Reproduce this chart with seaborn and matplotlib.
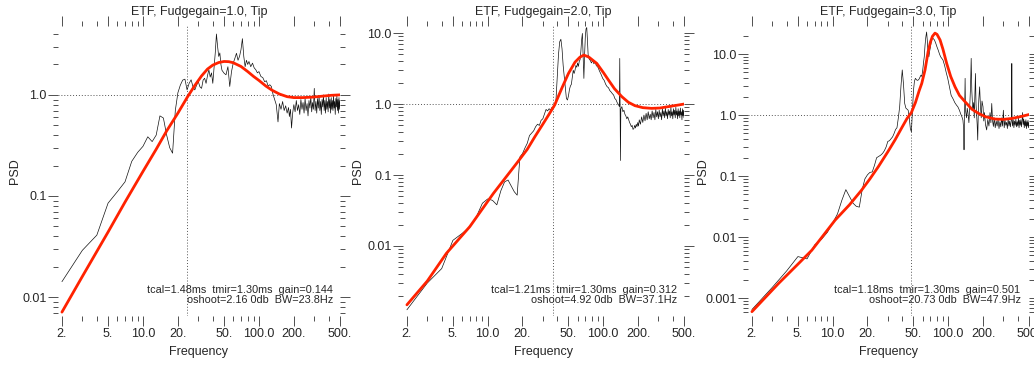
import matplotlib
matplotlib.use("Agg")
import matplotlib.pyplot as plt
import matplotlib.ticker as mticker
import seaborn as sns

sns.set_style("white")
plt.rcParams["font.family"] = ["Liberation Sans", "DejaVu Sans"]

# ----------------------------
# Data
# ----------------------------
fudgegain = ["1.0", "2.0", "3.0"]
tcal = ["1.48", "1.21", "1.18"]
tmir = ["1.30", "1.30", "1.30"]
gain = ["0.144", "0.312", "0.501"]
oshoot = ["2.16", "4.92", "20.73"]
bw = [23.8, 37.1, 47.9]

xticks = [2, 5, 10, 20, 50, 100, 200, 500]
xtick_labels = ["2.", "5.", "10.0", "20.", "50.", "100.0", "200.", "500."]
xminor = [3, 4, 6, 7, 8, 9, 30, 40, 60, 70, 80, 90, 300, 400]

# measured PSD, panel 1
p1_freq = [
    2, 3, 4, 5, 6, 7, 8, 9, 10, 11,
    12, 13, 14, 15, 16, 17, 18, 19, 20, 21,
    22, 23, 24, 25, 26, 27, 28, 29, 30, 31,
    32, 33, 34, 35, 36, 37, 38, 39, 40, 41,
    42, 43, 44, 45, 46, 47, 48, 50, 52, 54,
    56, 58, 60, 62, 64, 66, 68, 70, 72, 74,
    76, 78, 80, 82, 85, 88, 91, 94, 97, 100,
    104, 108, 112, 116, 120, 124, 128, 132, 137, 141,
    146, 150, 155, 160, 165, 170, 175, 180, 183, 187,
    191, 195, 200, 205, 210, 215, 220, 225, 230, 235,
    240, 245, 250, 255, 260, 265, 270, 275, 280, 285,
    290, 295, 300, 305, 310, 315, 320, 325, 330, 335,
    340, 345, 350, 355, 360, 365, 370, 375, 380, 385,
    390, 395, 400, 405, 410, 415, 420, 425, 430, 435,
    440, 445, 450, 455, 460, 465, 470, 475, 480, 485,
    490, 495, 500]
p1_psd = [
    0.0142, 0.029, 0.041, 0.085, 0.110, 0.138, 0.22, 0.27, 0.31, 0.385,
    0.345, 0.40, 0.62, 0.59, 0.40, 0.30, 0.265, 0.70, 1.05, 1.25,
    1.40, 1.43, 1.12, 1.30, 1.41, 1.20, 1.12, 1.25, 1.35, 1.20,
    1.16, 1.40, 1.46, 1.30, 1.55, 1.77, 1.50, 1.65, 1.30, 1.84,
    2.60, 4.00, 3.00, 2.40, 2.60, 2.00, 1.75, 1.64, 1.58, 1.90,
    1.21, 1.70, 2.06, 2.30, 2.58, 2.20, 2.40, 2.80, 3.60, 2.40,
    1.90, 2.20, 2.00, 2.14, 1.90, 2.06, 1.85, 1.77, 1.65, 1.70,
    1.52, 1.48, 1.35, 1.38, 1.22, 1.26, 1.21, 1.02, 0.89, 0.80,
    0.54, 0.82, 0.72, 0.86, 0.70, 0.78, 0.66, 0.75, 0.61, 0.72,
    0.47, 0.65, 0.80, 0.68, 0.88, 0.70, 0.80, 0.64, 0.90, 0.72,
    0.84, 0.66, 0.92, 0.70, 0.82, 0.62, 0.88, 0.74, 0.96, 0.68,
    0.84, 0.72, 1.16, 0.70, 0.86, 0.66, 0.92, 0.74, 0.98, 0.70,
    0.86, 0.64, 0.90, 0.76, 1.00, 0.70, 0.88, 0.66, 0.94, 0.72,
    0.86, 0.68, 1.02, 0.74, 0.90, 0.66, 0.94, 0.72, 0.88, 0.70,
    1.00, 0.74, 0.86, 0.64, 0.92, 0.76, 0.98, 0.70, 0.90, 0.66,
    0.94, 0.72, 0.88]

# measured PSD, panel 2
p2_freq = [
    2, 3, 4, 5, 6, 7, 8, 9, 10, 11,
    12, 13, 14, 15, 16, 17, 18, 19, 20, 21,
    22, 23, 24, 25, 26, 27, 28, 29, 30, 31,
    32, 33, 34, 35, 36, 37, 38, 39, 40, 41,
    42, 43, 44, 45, 46, 47, 48, 49, 50, 51,
    52, 53, 54, 55, 56, 57, 58, 59, 60, 61,
    62, 63, 64, 65, 66, 67, 68, 69, 70, 71,
    72, 73, 74, 75, 76, 77, 79, 81, 83, 85,
    87, 90, 93, 96, 99, 102, 105, 108, 111, 114,
    117, 120, 123, 126, 129, 132, 136, 138, 139, 140,
    141, 142, 145, 148, 151, 154, 157, 160, 163, 166,
    169, 172, 175, 178, 181, 184, 187, 190, 193, 196,
    199, 202, 205, 210, 215, 220, 225, 230, 235, 240,
    245, 250, 255, 260, 265, 270, 275, 280, 285, 290,
    295, 300, 305, 310, 315, 320, 325, 330, 335, 340,
    345, 350, 355, 360, 365, 370, 375, 380, 385, 390,
    395, 400, 405, 410, 415, 420, 425, 430, 435, 440,
    445, 450, 455, 460, 465, 470, 475, 480, 485, 490,
    495, 500]
p2_psd = [
    0.00126, 0.0030, 0.0048, 0.0120, 0.0150, 0.0185, 0.026, 0.040, 0.046, 0.044,
    0.038, 0.060, 0.080, 0.085, 0.070, 0.058, 0.052, 0.180, 0.20, 0.24,
    0.28, 0.36, 0.39, 0.42, 0.48, 0.52, 0.50, 0.59, 0.62, 0.72,
    0.84, 0.80, 0.86, 0.82, 0.90, 0.87, 0.95, 1.14, 2.40, 5.00,
    7.55, 8.20, 6.00, 3.50, 2.40, 1.60, 1.20, 1.14, 1.30, 1.60,
    1.80, 1.90, 2.40, 3.00, 2.70, 3.00, 3.50, 3.30, 3.80, 3.40,
    4.00, 4.20, 5.50, 8.00, 9.90, 4.50, 2.30, 5.00, 9.00, 11.5,
    12.0, 8.00, 5.00, 4.50, 4.20, 4.20, 3.80, 4.10, 3.70, 3.95,
    3.50, 3.30, 2.90, 2.60, 2.30, 2.15, 1.90, 1.76, 1.70, 1.55,
    1.48, 1.40, 1.34, 1.20, 1.15, 1.05, 0.97, 0.92, 4.40, 0.80,
    0.16, 0.85, 0.92, 0.78, 0.82, 0.72, 0.68, 0.62, 0.66, 0.60,
    0.55, 0.52, 0.48, 0.50, 0.44, 0.45, 0.50, 0.46, 0.52, 0.48,
    0.55, 0.49, 0.60, 0.52, 0.66, 0.55, 0.70, 0.58, 0.74, 0.60,
    0.78, 0.62, 0.72, 0.60, 0.80, 0.64, 0.76, 0.60, 0.84, 0.66,
    0.78, 0.62, 0.82, 0.66, 0.76, 0.60, 0.86, 0.68, 0.80, 0.64,
    0.88, 0.68, 0.78, 0.62, 0.84, 0.70, 0.80, 0.64, 0.90, 0.68,
    0.78, 0.62, 0.86, 0.70, 0.82, 0.64, 0.90, 0.70, 0.80, 0.62,
    0.86, 0.68, 0.80, 0.64, 0.88, 0.70, 0.78, 0.60, 0.86, 0.68,
    0.82, 0.64]

# measured PSD, panel 3
p3_freq = [
    2, 3, 4, 5, 6, 7, 8, 9, 10, 11,
    12, 13, 14, 15, 16, 17, 18, 19, 20, 21,
    22, 23, 24, 25, 26, 27, 28, 29, 30, 31,
    32, 33, 34, 35, 36, 37, 38, 39, 40, 41,
    42, 43, 44, 45, 46, 47, 48, 49, 50, 51,
    52, 53, 54, 55, 56, 57, 58, 59, 60, 61,
    62, 63, 64, 65, 66, 67, 68, 69, 70, 71,
    72, 74, 76, 78, 80, 82, 84, 86, 88, 90,
    93, 96, 99, 102, 106, 110, 114, 118, 121, 125,
    128, 131, 134, 136, 137, 138, 139, 140, 141, 144,
    146, 148, 151, 154, 156, 158, 160, 163, 166, 168,
    170, 172, 174, 176, 178, 180, 182, 184, 187, 190,
    193, 196, 200, 203, 206, 210, 215, 220, 225, 230,
    234, 238, 242, 246, 250, 255, 260, 265, 270, 275,
    280, 285, 290, 295, 300, 305, 310, 315, 320, 325,
    330, 335, 340, 345, 350, 353, 355, 357, 360, 365,
    370, 375, 380, 385, 390, 395, 400, 405, 410, 415,
    420, 425, 430, 435, 440, 445, 450, 455, 460, 465,
    470, 475, 480, 485, 490, 495, 500]
p3_psd = [
    0.00065, 0.0015, 0.0028, 0.0048, 0.0044, 0.0075, 0.0092, 0.012, 0.017, 0.024,
    0.040, 0.060, 0.046, 0.036, 0.032, 0.031, 0.060, 0.090, 0.105, 0.115,
    0.117, 0.150, 0.20, 0.21, 0.22, 0.235, 0.26, 0.30, 0.37, 0.38,
    0.41, 0.44, 0.50, 0.58, 0.62, 0.90, 1.37, 3.0, 5.5, 3.2,
    1.55, 1.30, 1.25, 1.20, 0.90, 0.60, 0.53, 1.20, 2.50, 3.60,
    4.00, 3.80, 3.70, 3.75, 3.90, 4.20, 4.50, 4.30, 5.20, 7.00,
    9.00, 14.0, 19.0, 23.0, 16.0, 10.0, 9.0, 11.0, 13.0, 15.0,
    17.5, 18.0, 17.0, 15.0, 13.0, 11.5, 10.0, 9.0, 8.5, 8.0,
    6.5, 5.0, 4.0, 3.0, 2.1, 1.85, 1.60, 1.45, 1.37, 1.20,
    1.05, 0.95, 0.83, 0.60, 0.27, 0.70, 1.60, 4.00, 1.20, 0.90,
    1.30, 1.10, 0.75, 1.60, 3.00, 8.50, 2.50, 1.20, 1.60, 0.90,
    2.20, 4.80, 1.50, 1.00, 0.70, 0.39, 1.10, 1.80, 2.90, 1.40,
    0.90, 1.70, 1.37, 0.80, 1.10, 0.70, 0.57, 0.85, 0.66, 1.10,
    0.75, 1.55, 0.80, 0.65, 0.90, 0.62, 0.80, 0.66, 0.86, 0.60,
    0.78, 0.64, 0.90, 0.66, 1.20, 0.62, 0.82, 0.68, 0.76, 0.60,
    0.88, 0.66, 0.80, 0.64, 0.78, 0.90, 7.00, 0.80, 0.66, 0.84,
    0.62, 0.80, 0.68, 0.86, 0.64, 0.78, 0.66, 0.90, 0.62, 0.82,
    0.68, 0.84, 0.64, 0.80, 1.10, 0.70, 0.86, 0.62, 0.80, 0.66,
    0.84, 0.60, 0.78, 0.66, 0.82, 0.62, 0.76]

# fitted transfer function (red curves)
p1_fit_freq = [2, 3, 5, 7, 10, 13, 16, 20, 24, 28, 32, 36, 40, 45, 50, 55, 60,
               70, 80, 90, 100, 115, 130, 150, 175, 200, 240, 290, 350, 420, 500]
p1_fit_psd = [0.0071, 0.016, 0.044, 0.087, 0.175, 0.29, 0.44, 0.66, 0.94, 1.24,
              1.54, 1.80, 1.97, 2.09, 2.14, 2.13, 2.08, 1.91, 1.70, 1.52, 1.39,
              1.22, 1.11, 1.02, 0.96, 0.94, 0.94, 0.95, 0.97, 0.99, 1.0]

p2_fit_freq = [2, 3, 4.4, 7, 11.2, 17.8, 22, 25.7, 30, 34, 38, 44, 50, 57, 63, 68,
               75, 82, 88, 100, 111, 125, 145, 165, 188, 220, 262, 310, 366, 430, 500]
p2_fit_psd = [0.00148, 0.0032, 0.0079, 0.0187, 0.055, 0.146, 0.23, 0.35, 0.52,
              0.72, 0.97, 1.7, 2.7, 3.9, 4.6, 4.9, 4.6, 4.1, 3.74, 2.8, 2.18,
              1.65, 1.27, 1.06, 0.95, 0.89, 0.87, 0.88, 0.92, 0.96, 1.0]

p3_fit_freq = [2, 3.4, 5, 6.6, 10.5, 14, 17.8, 21, 24.8, 30, 34.6, 40, 44, 48,
               52, 56, 59, 63, 67, 70, 73, 76.8, 80, 85, 90, 97, 105, 114.5, 125,
               140, 160, 182, 210, 254, 300, 355, 420, 500]
p3_fit_psd = [0.0006, 0.00174, 0.0036, 0.0061, 0.019, 0.034, 0.059, 0.09, 0.142,
              0.25, 0.39, 0.64, 0.88, 1.1, 1.6, 2.5, 3.3, 5.5, 11, 15.5, 19.5, 22,
              21, 17, 12, 7.0, 4.3, 2.9, 2.1, 1.65, 1.25, 1.07, 0.94, 0.86, 0.85,
              0.88, 0.94, 1.02]

psd_freq = [p1_freq, p2_freq, p3_freq]
psd_vals = [p1_psd, p2_psd, p3_psd]
fit_freq = [p1_fit_freq, p2_fit_freq, p3_fit_freq]
fit_vals = [p1_fit_psd, p2_fit_psd, p3_fit_psd]
ylims = [(0.0065, 4.8), (0.00103, 12.6), (0.00051, 28.8)]

# ----------------------------
# Layout (pixels of a 1034x365 canvas)
# ----------------------------
W, H = 1034, 365
panel_left = [58, 403, 748]
panel_width = [282, 281, 281]
ax_top, ax_bottom = 26, 316
note_x = [0.975, 0.975, 0.97]
psd_x = [-0.152, -0.16, -0.16]


def ytick_fmt(v, pos):
    if v >= 1:
        return f"{v:.1f}"
    return f"{v:g}"


fig = plt.figure(figsize=(W / 100, H / 100), dpi=100)

for i in range(3):
    ax = fig.add_axes([panel_left[i] / W, (H - ax_bottom) / H,
                       panel_width[i] / W, (ax_bottom - ax_top) / H])
    ax.set_xscale("log")
    ax.set_yscale("log")

    ax.axhline(1.0, color="#555555", lw=0.7, ls=(0, (1, 2)))
    ax.axvline(bw[i], color="#555555", lw=0.7, ls=(0, (1, 2)))

    sns.lineplot(x=psd_freq[i], y=psd_vals[i], ax=ax, color="#111111",
                 linewidth=0.5, estimator=None, sort=False)
    sns.lineplot(x=fit_freq[i], y=fit_vals[i], ax=ax, color="#ff2200",
                 linewidth=2.0, estimator=None, sort=False)

    ax.set_xlim(1.85, 500)
    ax.set_ylim(*ylims[i])

    ax.xaxis.set_major_locator(mticker.FixedLocator(xticks))
    ax.xaxis.set_major_formatter(mticker.FixedFormatter(xtick_labels))
    ax.xaxis.set_minor_locator(mticker.FixedLocator(xminor))
    ax.xaxis.set_minor_formatter(mticker.NullFormatter())
    ax.yaxis.set_major_locator(mticker.LogLocator(base=10, numticks=20))
    ax.yaxis.set_major_formatter(mticker.FuncFormatter(ytick_fmt))
    ax.yaxis.set_minor_locator(mticker.LogLocator(base=10, subs=range(2, 10), numticks=20))
    ax.yaxis.set_minor_formatter(mticker.NullFormatter())

    ax.tick_params(which="both", direction="out", top=True, right=True,
                   bottom=True, left=True, color="#333333", width=0.6,
                   labelsize=9)
    ax.tick_params(which="major", length=7)
    ax.tick_params(which="minor", length=3.5)
    ax.tick_params(axis="x", pad=1.5)
    ax.tick_params(axis="y", pad=1)
    for s in ax.spines.values():
        s.set_visible(False)
    ax.set_xlabel("")
    ax.set_ylabel("")

    ax.text(0.5, 1 + 14 / 290, f"ETF, Fudgegain={fudgegain[i]}, Tip",
            transform=ax.transAxes, ha="center", va="center", fontsize=9)
    ax.text(0.5, -36 / 290, "Frequency", transform=ax.transAxes,
            ha="center", va="center", fontsize=9)
    ax.text(psd_x[i], 0.5, "PSD", transform=ax.transAxes, rotation=90,
            ha="center", va="center", fontsize=9)
    ax.text(note_x[i], 0.09,
            f"tcal={tcal[i]}ms  tmir={tmir[i]}ms  gain={gain[i]}",
            transform=ax.transAxes, ha="right", va="center", fontsize=7.8)
    ax.text(note_x[i], 0.055, f"oshoot={oshoot[i]} 0db  BW={bw[i]}Hz",
            transform=ax.transAxes, ha="right", va="center", fontsize=7.8)

fig.savefig("out.png", dpi=100)
